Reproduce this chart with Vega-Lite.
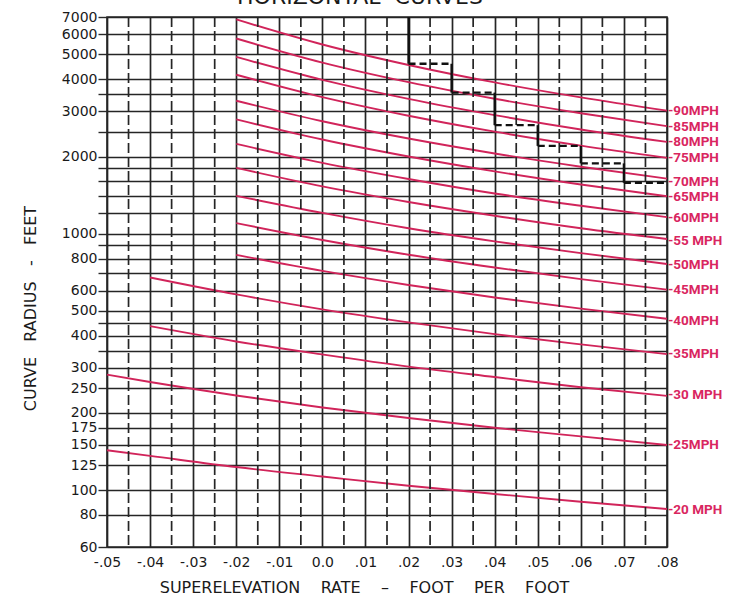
{
  "$schema": "https://vega.github.io/schema/vega-lite/v6.json",
  "width": 560,
  "height": 530,
  "autosize": {"type": "none"},
  "padding": {"left": 107, "top": 17, "right": 78, "bottom": 52},
  "background": "white",
  "title": {
    "text": "HORIZONTAL\u00a0\u00a0CURVES",
    "font": "DejaVu Sans",
    "fontSize": 22,
    "fontWeight": "normal",
    "color": "#1a1a1a",
    "anchor": "middle",
    "frame": "group",
    "dx": -27,
    "offset": 0,
    "dy": 21,
    "baseline": "bottom"
  },
  "config": {
    "view": {"stroke": "#2a2a2a", "strokeWidth": 1.6},
    "font": "DejaVu Sans"
  },
  "datasets": {
    "curves": [
      {"mph": 90, "e": -0.02, "r": 6850}, {"mph": 90, "e": 0, "r": 5470}, {"mph": 90, "e": 0.02, "r": 4550}, {"mph": 90, "e": 0.04, "r": 3890}, {"mph": 90, "e": 0.06, "r": 3400}, {"mph": 90, "e": 0.08, "r": 3020},
      {"mph": 85, "e": -0.02, "r": 5770}, {"mph": 85, "e": 0, "r": 4650}, {"mph": 85, "e": 0.02, "r": 3900}, {"mph": 85, "e": 0.04, "r": 3360}, {"mph": 85, "e": 0.06, "r": 2950}, {"mph": 85, "e": 0.08, "r": 2625},
      {"mph": 80, "e": -0.02, "r": 4890}, {"mph": 80, "e": 0, "r": 3980}, {"mph": 80, "e": 0.02, "r": 3355}, {"mph": 80, "e": 0.04, "r": 2900}, {"mph": 80, "e": 0.06, "r": 2550}, {"mph": 80, "e": 0.08, "r": 2280},
      {"mph": 75, "e": -0.02, "r": 4170}, {"mph": 75, "e": 0, "r": 3410}, {"mph": 75, "e": 0.02, "r": 2885}, {"mph": 75, "e": 0.04, "r": 2500}, {"mph": 75, "e": 0.06, "r": 2205}, {"mph": 75, "e": 0.08, "r": 1975},
      {"mph": 70, "e": -0.02, "r": 3300}, {"mph": 70, "e": 0, "r": 2745}, {"mph": 70, "e": 0.02, "r": 2350}, {"mph": 70, "e": 0.04, "r": 2055}, {"mph": 70, "e": 0.06, "r": 1825}, {"mph": 70, "e": 0.08, "r": 1640},
      {"mph": 65, "e": -0.02, "r": 2790}, {"mph": 65, "e": 0, "r": 2330}, {"mph": 65, "e": 0.02, "r": 2000}, {"mph": 65, "e": 0.04, "r": 1750}, {"mph": 65, "e": 0.06, "r": 1555}, {"mph": 65, "e": 0.08, "r": 1400},
      {"mph": 60, "e": -0.02, "r": 2240}, {"mph": 60, "e": 0, "r": 1890}, {"mph": 60, "e": 0.02, "r": 1635}, {"mph": 60, "e": 0.04, "r": 1435}, {"mph": 60, "e": 0.06, "r": 1285}, {"mph": 60, "e": 0.08, "r": 1160},
      {"mph": 55, "e": -0.02, "r": 1805}, {"mph": 55, "e": 0, "r": 1530}, {"mph": 55, "e": 0.02, "r": 1330}, {"mph": 55, "e": 0.04, "r": 1175}, {"mph": 55, "e": 0.06, "r": 1050}, {"mph": 55, "e": 0.08, "r": 953},
      {"mph": 50, "e": -0.02, "r": 1405}, {"mph": 50, "e": 0, "r": 1205}, {"mph": 50, "e": 0.02, "r": 1050}, {"mph": 50, "e": 0.04, "r": 933}, {"mph": 50, "e": 0.06, "r": 840}, {"mph": 50, "e": 0.08, "r": 762},
      {"mph": 45, "e": -0.02, "r": 1100}, {"mph": 45, "e": 0, "r": 945}, {"mph": 45, "e": 0.02, "r": 828}, {"mph": 45, "e": 0.04, "r": 738}, {"mph": 45, "e": 0.06, "r": 665}, {"mph": 45, "e": 0.08, "r": 605},
      {"mph": 40, "e": -0.02, "r": 827}, {"mph": 40, "e": 0, "r": 716}, {"mph": 40, "e": 0.02, "r": 631}, {"mph": 40, "e": 0.04, "r": 564}, {"mph": 40, "e": 0.06, "r": 510}, {"mph": 40, "e": 0.08, "r": 466},
      {"mph": 35, "e": -0.04, "r": 675}, {"mph": 35, "e": -0.02, "r": 580}, {"mph": 35, "e": 0, "r": 507}, {"mph": 35, "e": 0.02, "r": 451}, {"mph": 35, "e": 0.04, "r": 406}, {"mph": 35, "e": 0.06, "r": 370}, {"mph": 35, "e": 0.08, "r": 339},
      {"mph": 30, "e": -0.04, "r": 436}, {"mph": 30, "e": -0.02, "r": 380}, {"mph": 30, "e": 0, "r": 338}, {"mph": 30, "e": 0.02, "r": 303}, {"mph": 30, "e": 0.04, "r": 276}, {"mph": 30, "e": 0.06, "r": 252}, {"mph": 30, "e": 0.08, "r": 233},
      {"mph": 25, "e": -0.05, "r": 282}, {"mph": 25, "e": -0.04, "r": 264}, {"mph": 25, "e": -0.02, "r": 234}, {"mph": 25, "e": 0, "r": 210}, {"mph": 25, "e": 0.02, "r": 191}, {"mph": 25, "e": 0.04, "r": 175}, {"mph": 25, "e": 0.06, "r": 162}, {"mph": 25, "e": 0.08, "r": 150},
      {"mph": 20, "e": -0.05, "r": 143}, {"mph": 20, "e": -0.04, "r": 136}, {"mph": 20, "e": -0.02, "r": 123}, {"mph": 20, "e": 0, "r": 113}, {"mph": 20, "e": 0.02, "r": 104}, {"mph": 20, "e": 0.04, "r": 96.6}, {"mph": 20, "e": 0.06, "r": 90.1}, {"mph": 20, "e": 0.08, "r": 84.4}
    ],
    "labels": [
      {"t": "-90MPH", "e": 0.08, "r": 3000},
      {"t": "-85MPH", "e": 0.08, "r": 2610},
      {"t": "-80MPH", "e": 0.08, "r": 2270},
      {"t": "-75MPH", "e": 0.08, "r": 1975},
      {"t": "-70MPH", "e": 0.08, "r": 1591},
      {"t": "-65MPH", "e": 0.08, "r": 1385},
      {"t": "-60MPH", "e": 0.08, "r": 1151},
      {"t": "-55 MPH", "e": 0.08, "r": 936},
      {"t": "-50MPH", "e": 0.08, "r": 755},
      {"t": "-45MPH", "e": 0.08, "r": 603},
      {"t": "-40MPH", "e": 0.08, "r": 456},
      {"t": "-35MPH", "e": 0.08, "r": 339},
      {"t": "-30 MPH", "e": 0.08, "r": 235},
      {"t": "-25MPH", "e": 0.08, "r": 150},
      {"t": "-20 MPH", "e": 0.08, "r": 83.6}
    ],
    "steph": [
      {"a": 0.02, "b": 0.03, "r": 4600},
      {"a": 0.03, "b": 0.04, "r": 3550},
      {"a": 0.04, "b": 0.05, "r": 2650},
      {"a": 0.05, "b": 0.06, "r": 2200},
      {"a": 0.06, "b": 0.07, "r": 1880},
      {"a": 0.07, "b": 0.08, "r": 1580}
    ],
    "stepv": [
      {"e": 0.02, "r1": 7000, "r2": 4600},
      {"e": 0.03, "r1": 4600, "r2": 3550},
      {"e": 0.04, "r1": 3550, "r2": 2650},
      {"e": 0.05, "r1": 2650, "r2": 2200},
      {"e": 0.06, "r1": 2200, "r2": 1880},
      {"e": 0.07, "r1": 1880, "r2": 1580}
    ],
    "half": [
      {"e": -0.045}, {"e": -0.035}, {"e": -0.025}, {"e": -0.015}, {"e": -0.005}, {"e": 0.005}, {"e": 0.015},
      {"e": 0.025}, {"e": 0.035}, {"e": 0.045}, {"e": 0.055}, {"e": 0.065}, {"e": 0.075}
    ]
  },
  "layer": [
    {
      "data": {"name": "curves"},
      "mark": {"type": "line", "color": "#d1245a", "strokeWidth": 1.9, "interpolate": "monotone"},
      "encoding": {
        "x": {
          "field": "e", "type": "quantitative",
          "scale": {"domain": [-0.05, 0.08], "nice": false, "zero": false},
          "axis": {
            "values": [-0.05, -0.04, -0.03, -0.02, -0.01, 0, 0.01, 0.02, 0.03, 0.04, 0.05, 0.06, 0.07, 0.08],
            "grid": true, "gridColor": "#252525", "gridWidth": 1.7, "gridOpacity": 1,
            "ticks": false, "domain": false,
            "labelExpr": "datum.value == 0 ? '0.0' : (datum.value < 0 ? '-' : '') + replace(format(abs(datum.value), '.2f'), '0.', '.')",
            "labelFont": "DejaVu Sans", "labelFontSize": 14, "labelColor": "#1a1a1a", "labelPadding": 8,
            "labelFlush": false, "labelOverlap": false, "labelBound": false,
            "title": "SUPERELEVATION\u00a0\u00a0\u00a0\u00a0RATE\u00a0\u00a0\u00a0\u00a0–\u00a0\u00a0\u00a0\u00a0FOOT\u00a0\u00a0\u00a0\u00a0PER\u00a0\u00a0\u00a0\u00a0FOOT",
            "titleFont": "DejaVu Sans", "titleFontSize": 16, "titleFontWeight": "normal", "titleColor": "#1a1a1a",
            "titleX": 257, "titleY": 40, "titleAlign": "center", "titleBaseline": "middle", "titleAnchor": null
          }
        },
        "y": {
          "field": "r", "type": "quantitative",
          "scale": {"type": "log", "domain": [60, 7000], "nice": false},
          "axis": {
            "values": [60, 80, 100, 125, 150, 175, 200, 250, 300, 350, 400, 450, 500, 600, 700, 800, 900, 1000, 1200, 1400, 1600, 1800, 2000, 2500, 3000, 3500, 4000, 5000, 6000, 7000],
            "grid": true, "gridColor": "#252525", "gridWidth": 1.7, "gridOpacity": 1,
            "ticks": true, "tickSize": 9, "tickColor": "#2a2a2a", "tickWidth": 1.4, "domain": false,
            "labelExpr": "indexof([60,80,100,125,150,175,200,250,300,400,500,600,800,1000,2000,3000,4000,5000,6000,7000], datum.value) >= 0 ? format(datum.value, 'd') : ''",
            "labelFont": "DejaVu Sans", "labelFontSize": 14, "labelColor": "#1a1a1a", "labelPadding": 1,
            "labelOverlap": false, "labelFlush": false, "labelBound": false,
            "title": "CURVE\u00a0\u00a0\u00a0RADIUS\u00a0\u00a0\u00a0-\u00a0\u00a0\u00a0FEET",
            "titleFont": "DejaVu Sans", "titleFontSize": 16, "titleFontWeight": "normal", "titleColor": "#1a1a1a",
            "titleX": -77, "titleY": 291, "titleAlign": "center", "titleBaseline": "middle", "titleAngle": -90, "titleAnchor": null
          }
        },
        "detail": {"field": "mph", "type": "nominal"}
      }
    },
    {
      "data": {"name": "half"},
      "mark": {"type": "rule", "color": "#252525", "strokeWidth": 1.7, "strokeDash": [10, 4]},
      "encoding": {"x": {"field": "e", "type": "quantitative"}}
    },
    {
      "data": {"name": "steph"},
      "mark": {"type": "rule", "color": "#111", "strokeWidth": 2.4, "strokeDash": [7, 4]},
      "encoding": {
        "x": {"field": "a", "type": "quantitative"},
        "x2": {"field": "b"},
        "y": {"field": "r", "type": "quantitative"}
      }
    },
    {
      "data": {"name": "stepv"},
      "mark": {"type": "rule", "color": "#111", "strokeWidth": 2.4},
      "encoding": {
        "x": {"field": "e", "type": "quantitative"},
        "y": {"field": "r1", "type": "quantitative"},
        "y2": {"field": "r2"}
      }
    },
    {
      "data": {"name": "labels"},
      "mark": {"type": "text", "align": "left", "baseline": "middle", "dx": 1, "font": "Roboto", "fontSize": 13.5, "fontWeight": "bold", "color": "#d9265f", "clip": false},
      "encoding": {
        "x": {"field": "e", "type": "quantitative"},
        "y": {"field": "r", "type": "quantitative"},
        "text": {"field": "t"}
      }
    }
  ]
}
